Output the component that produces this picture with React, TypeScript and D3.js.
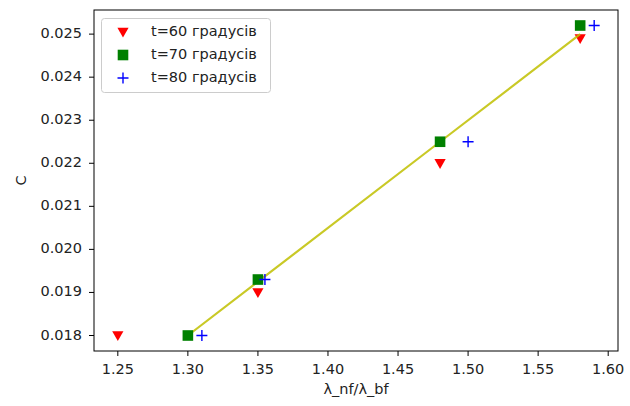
import React from "react";
import * as d3 from "d3";

const x60 = [1.25, 1.35, 1.48, 1.58];
const y60 = [0.018, 0.019, 0.022, 0.0249];
const x70 = [1.3, 1.35, 1.48, 1.58];
const y70 = [0.018, 0.0193, 0.0225, 0.0252];
const x80 = [1.31, 1.355, 1.5, 1.59];
const y80 = [0.018, 0.0193, 0.0225, 0.0252];
const lineX = [1.3, 1.35, 1.48, 1.58];
const lineY = [0.018, 0.01925, 0.0225, 0.025];
const xTicks = [1.25, 1.3, 1.35, 1.4, 1.45, 1.5, 1.55, 1.6];
const yTicks = [0.018, 0.019, 0.02, 0.021, 0.022, 0.023, 0.024, 0.025];
const legendLabels = ["t=60 градусів", "t=70 градусів", "t=80 градусів"];

const W = 630, H = 406;
const L = 94, R = 618, T = 10, B = 351;
const font = "DejaVu Sans, sans-serif";
const FS = 14.5;

export default function App() {
  const x = d3.scaleLinear().domain([1.233, 1.607]).range([L, R]);
  const y = d3.scaleLinear().domain([0.01764, 0.02556]).range([B, T]);
  const line = d3.line<number>().x((d) => x(lineX[d])).y((d) => y(lineY[d]));

  const tri = (cx: number, cy: number, k: string | number) => (
    <path key={k} d={`M${cx - 5.6},${cy - 4.2}L${cx + 5.6},${cy - 4.2}L${cx},${cy + 5.6}Z`} fill="red" />
  );
  const sq = (cx: number, cy: number, k: string | number) => (
    <rect key={k} x={cx - 5.3} y={cy - 5.3} width={10.6} height={10.6} fill="green" />
  );
  const plus = (cx: number, cy: number, k: string | number) => (
    <path key={k} d={`M${cx - 5.5},${cy}H${cx + 5.5}M${cx},${cy - 5.5}V${cy + 5.5}`} stroke="blue" strokeWidth={1.4} fill="none" />
  );

  return (
    <svg width={W} height={H} style={{ position: "absolute", left: 0, top: 0 }} fontFamily={font}>
      <rect width={W} height={H} fill="white" />
      {xTicks.map((t) => (
        <g key={"xt" + t}>
          <line x1={x(t)} x2={x(t)} y1={B} y2={B + 5} stroke="black" strokeWidth={1} />
          <text x={x(t)} y={B + 19} fontSize={FS} textAnchor="middle" dominantBaseline="middle" fill="#222">
            {t.toFixed(2)}
          </text>
        </g>
      ))}
      {yTicks.map((t) => (
        <g key={"yt" + t}>
          <line x1={L - 5} x2={L} y1={y(t)} y2={y(t)} stroke="black" strokeWidth={1} />
          <text x={L - 12} y={y(t)} fontSize={FS} textAnchor="end" dominantBaseline="middle" fill="#222">
            {t.toFixed(3)}
          </text>
        </g>
      ))}
      <text x={(L + R) / 2} y={390} fontSize={FS} textAnchor="middle" dominantBaseline="middle" fill="#222">
        λ_nf/λ_bf
      </text>
      <text
        x={0}
        y={0}
        transform={`translate(22,${(T + B) / 2}) rotate(-90)`}
        fontSize={FS}
        textAnchor="middle"
        dominantBaseline="middle"
        fill="#222"
      >
        C
      </text>
      {x60.map((v, i) => tri(x(v), y(y60[i]), "r" + i))}
      <path d={line(d3.range(lineX.length)) || ""} stroke="#bfbf00" strokeWidth={2.2} fill="none" opacity={0.85} />
      {x70.map((v, i) => sq(x(v), y(y70[i]), "g" + i))}
      {x80.map((v, i) => plus(x(v), y(y80[i]), "b" + i))}
      <rect x={L} y={T} width={R - L} height={B - T} fill="none" stroke="black" strokeWidth={1} />
      <rect x={101.5} y={18.5} width={169} height={74} rx={3} fill="white" fillOpacity={0.8} stroke="#ccc" />
      {tri(123, 32, "lt")}
      {sq(123, 55, "ls")}
      {plus(123, 78, "lp")}
      {legendLabels.map((s, i) => (
        <text key={s} x={151} y={32 + i * 23} fontSize={FS} dominantBaseline="middle" fill="#222">
          {s}
        </text>
      ))}
    </svg>
  );
}
